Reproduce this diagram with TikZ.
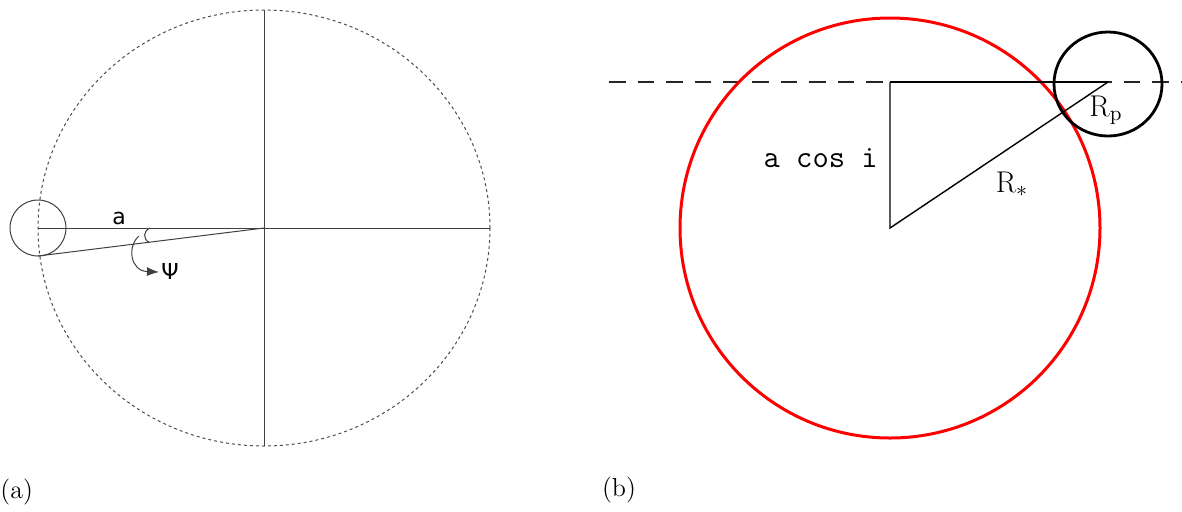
\documentclass[tikz,border=0pt]{standalone}
\usepackage{fontspec}
\newfontfamily\sansfont{DejaVu Sans}
\usetikzlibrary{arrows.meta}
\begin{document}
\begin{tikzpicture}[x=0.5pt, y=-0.5pt,
  thinline/.style={line width=0.5pt, black!75},
  orbitline/.style={line width=0.5pt, black!70, dash pattern=on 1.5pt off 1.5pt},
  skyline/.style={line width=1pt, black!85, dash pattern=on 8.3pt off 6pt},
  serifbig/.style={font=\fontsize{15}{17}\selectfont, inner sep=0pt}]
  \useasboundingbox (0,0) rectangle (1182,511);

  % (a) orbit seen from above
  \coordinate (O) at (264,228);
  \coordinate (top) at (264,10);
  \coordinate (bot) at (264,446);
  \coordinate (left) at (38,228);
  \coordinate (right) at (490,228);
  \coordinate (P) at (38,228);
  \coordinate (Pedge) at (38,256);
  \draw[orbitline] (O) ellipse [x radius=226, y radius=218];
  \draw[thinline] (top) -- (bot);
  \draw[thinline] (left) -- (right);
  \draw[thinline] (P) circle [radius=28];
  \draw[thinline] (Pedge) -- (O);

  % angle psi
  \coordinate (psiA) at (150,228);
  \coordinate (psiB) at (149,242.2);
  \draw[thinline] (psiA) .. controls (143,231) and (143,239) .. (psiB);
  \coordinate (psiS) at (139,236);
  \coordinate (psiE) at (159,272);
  \draw[thinline, -{Latex[length=6pt, width=4.5pt]}] (psiS) .. controls (127,246) and (130,271) .. (psiE);
  \node[font=\sansfont\fontsize{11}{12}\selectfont, anchor=west, inner sep=0pt] (psi) at (161,271) {Ψ};
  \node[font=\sansfont\fontsize{11}{12}\selectfont, inner sep=0pt] (alab) at (119,218) {a};

  \node[font=\fontsize{13}{15}\selectfont, anchor=west, inner sep=0pt] (capa) at (0,492) {(a)};

  % (b) transit geometry
  \coordinate (S) at (890,228);
  \coordinate (T) at (890,82);
  \coordinate (Q) at (1108,84);
  \coordinate (Qlin) at (1108,82);
  \coordinate (dashL) at (609,82);
  \coordinate (dashR) at (1182,82);
  \draw[skyline] (dashL) -- (dashR);
  \draw[red, line width=1.5pt] (S) circle [radius=210];
  \draw[black, line width=1.4pt] (Q) circle [x radius=54, y radius=52];
  \draw[line width=0.7pt] (T) -- (Qlin);
  \draw[line width=0.7pt] (T) -- (S) -- (Qlin);

  \node[font=\ttfamily\fontsize{15.8}{17}\selectfont, anchor=east, inner sep=0pt] (acosi) at (878,158) {a cos i};
  \node[serifbig] (rstar) at (1012,184) {R$_*$};
  \node[serifbig] (rp) at (1106,110) {R$_\mathrm{p}$};

  \node[font=\fontsize{13}{15}\selectfont, inner sep=0pt] (capb) at (619,490) {(b)};
\end{tikzpicture}
\end{document}
